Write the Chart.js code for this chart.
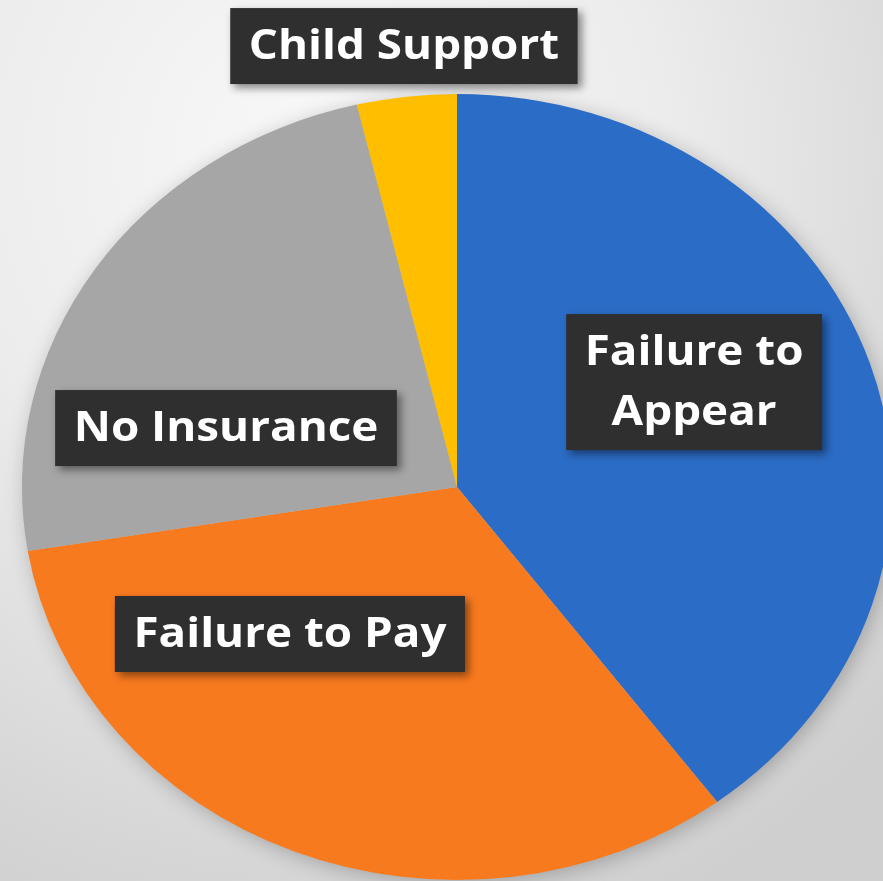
<!DOCTYPE html>
<html>
<head>
<meta charset="utf-8">
<script src="https://cdn.jsdelivr.net/npm/chart.js@4/dist/chart.umd.min.js"></script>
<style>
  html, body { margin: 0; padding: 0; }
  body {
    width: 883px; height: 881px; overflow: hidden;
    background: radial-gradient(ellipse 90% 95% at 35% 18%, #f8f8f8 0%, #ececec 45%, #d6d6d6 85%, #cfcfcf 100%);
  }
  #wrap { position: absolute; left: 0; top: 0; width: 883px; height: 881px; }
</style>
</head>
<body>
<div id="wrap"><canvas id="c" width="883" height="881"></canvas></div>
<script>
// ---- data ----
const categories = ["Failure to Appear", "Failure to Pay", "No Insurance", "Child Support"];
const values = [39.8, 32.6, 23.9, 3.7];
const labelLines = [["Failure to", "Appear"], ["Failure to Pay"], ["No Insurance"], ["Child Support"]];

// ---- styles / layout (kept separate from data) ----
const colors = ["#2B6CC6", "#F87A1F", "#A6A6A6", "#FFBE00"];
const xStretch = 1.107;             // reference pie is slightly wider than tall
const textStretch = 1.09;
// label centres as fractions of the pie's horizontal / vertical radius from its centre
const labelPos = [[0.545, -0.267], [-0.384, 0.374], [-0.531, -0.150], [-0.122, -1.122]];

const ellipsePlugin = {
  id: 'ellipse',
  beforeDatasetsDraw(chart) {
    const arc = chart.getDatasetMeta(0).data[0];
    const cx = arc.x, cy = arc.y, r = arc.outerRadius;
    const ctx = chart.ctx;
    // soft shadow under the pie
    ctx.save();
    ctx.beginPath();
    ctx.ellipse(cx, cy, r * xStretch - 2, r - 2, 0, 0, Math.PI * 2);
    ctx.shadowColor = 'rgba(0,0,0,0.28)';
    ctx.shadowBlur = 22;
    ctx.shadowOffsetX = 3;
    ctx.shadowOffsetY = 4;
    ctx.fillStyle = '#bdbdbd';
    ctx.fill();
    ctx.restore();
    ctx.save();
    ctx.translate(cx, cy);
    ctx.scale(xStretch, 1);
    ctx.translate(-cx, -cy);
  },
  afterDatasetsDraw(chart) {
    chart.ctx.restore();
  },
  afterDraw(chart) {
    const meta = chart.getDatasetMeta(0);
    const arc0 = meta.data[0];
    const cx = arc0.x, cy = arc0.y, r = arc0.outerRadius;
    const ctx = chart.ctx;
    const fontSize = 42;
    const lineH = 60;
    const padX = 17, padY = 8;
    ctx.save();
    ctx.font = `bold ${fontSize}px "Open Sans", "Noto Sans", sans-serif`;
    ctx.textAlign = 'center';
    ctx.textBaseline = 'middle';
    labelLines.forEach((lines, i) => {
      const x = cx + labelPos[i][0] * r * xStretch;
      const y = cy + labelPos[i][1] * r;
      const w = Math.max(...lines.map(l => ctx.measureText(l).width)) + padX * 2;
      const h = lines.length * lineH + padY * 2;
      ctx.save();
      ctx.translate(x, y);
      ctx.scale(textStretch, 1);
      ctx.save();
      ctx.shadowColor = 'rgba(0,0,0,0.45)';
      ctx.shadowBlur = 8;
      ctx.shadowOffsetX = 4;
      ctx.shadowOffsetY = 4;
      ctx.fillStyle = '#2f2f2f';
      ctx.fillRect(-w / 2, -h / 2, w, h);
      ctx.restore();
      ctx.fillStyle = '#ffffff';
      lines.forEach((l, j) => {
        ctx.fillText(l, 0, -h / 2 + padY + lineH * (j + 0.5) + 1);
      });
      ctx.restore();
    });
    ctx.restore();
  }
};

new Chart(document.getElementById('c'), {
  type: 'pie',
  data: {
    labels: categories,
    datasets: [{
      data: values,
      backgroundColor: colors,
      borderWidth: 0,
      hoverOffset: 0
    }]
  },
  options: {
    responsive: false,
    animation: false,
    rotation: 0,
    layout: { padding: { top: 94, bottom: 1, left: 31, right: 0 } },
    plugins: {
      legend: { display: false },
      tooltip: { enabled: false }
    }
  },
  plugins: [ellipsePlugin]
});
</script>
</body>
</html>
